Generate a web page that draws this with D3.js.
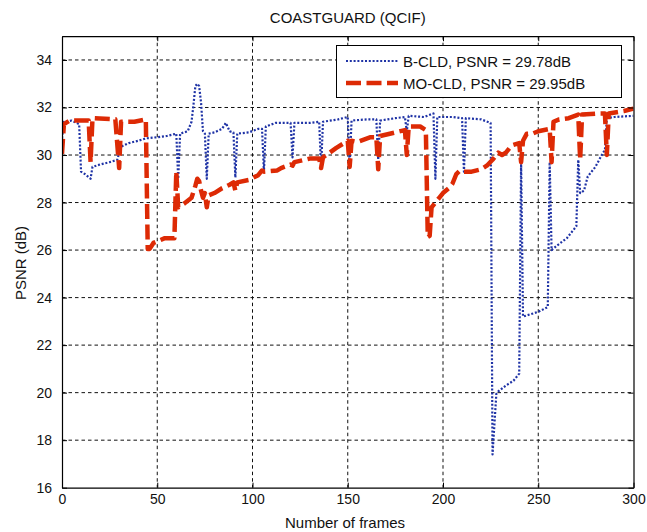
<!DOCTYPE html>
<html>
<head>
<meta charset="utf-8">
<script src="https://cdn.jsdelivr.net/npm/d3@7"></script>
<style>
  body { margin: 0; background: #fff; }
  svg { font-family: 'Liberation Sans', Arial, Helvetica, sans-serif; }
</style>
</head>
<body>
<div id="chart"></div>
<script>
// B-CLD (blue dotted)
const bCldFrames = [0, 1, 5, 9, 10, 12, 15, 16, 20, 25, 29, 31, 35, 40, 44, 50, 55, 60, 61, 62,
  66, 68, 69, 70, 71, 72, 73, 74, 75, 76, 77, 80, 84, 86, 88, 90, 91, 92, 98, 103,
  105, 106, 107, 112, 120, 121, 122, 130, 135, 136, 137, 145, 150, 151, 152, 160, 165, 166, 167, 175,
  180, 181, 182, 190, 195, 196, 197, 205, 210, 211, 212, 220, 225, 226, 228, 229, 233, 237, 240, 241,
  242, 250, 255, 256, 257, 260, 265, 270, 271, 272, 274, 276, 280, 284, 285, 286, 290, 300];
const bCldPsnr = [30.7, 31.4, 31.45, 31.3, 29.3, 29.2, 29.0, 29.5, 29.6, 29.7, 29.8, 30.35, 30.5, 30.6, 30.7, 30.75, 30.8, 30.9, 29.0, 30.9,
  31.0, 31.4, 32.1, 32.9, 33.0, 32.9, 32.2, 31.0, 30.9, 29.0, 30.9, 30.95, 31.1, 31.35, 31.0, 30.95, 29.05, 30.9, 30.95, 31.1,
  31.1, 29.3, 31.2, 31.35, 31.35, 29.9, 31.35, 31.35, 31.4, 29.45, 31.4, 31.5, 31.6, 29.55, 31.45, 31.5, 31.5, 29.8, 31.45, 31.55,
  31.6, 31.0, 31.65, 31.6, 31.75, 29.0, 31.6, 31.6, 31.55, 29.3, 31.55, 31.5, 31.35, 17.4, 19.95, 20.05, 20.3, 20.5, 20.8, 29.7,
  23.2, 23.4, 23.6, 29.7, 26.0, 26.2, 26.5, 27.0, 29.8, 28.4, 28.5, 29.1, 29.5, 30.1, 30.2, 31.55, 31.6, 31.65];

// MO-CLD (red dashed)
const moCldFrames = [0, 1, 4, 14, 15, 16, 28, 30, 31, 38, 44, 45, 46, 48, 54, 59, 60, 61, 64, 68,
  70, 71, 72, 73, 74, 75, 76, 77, 80, 84, 88, 90, 91, 92, 98, 103, 105, 106, 113, 115,
  120, 121, 122, 130, 135, 136, 137, 144, 150, 151, 152, 155, 162, 165, 166, 167, 175, 180, 181, 182,
  188, 191, 192, 193, 194, 196, 198, 200, 203, 205, 207, 209, 211, 215, 220, 223, 226, 229, 231, 233,
  236, 240, 241, 242, 244, 247, 250, 256, 257, 258, 261, 266, 271, 272, 273, 282, 285, 286, 287, 295, 300];
const moCldPsnr = [30.05, 31.3, 31.45, 31.45, 29.7, 31.55, 31.5, 29.45, 31.4, 31.4, 31.5, 26.05, 26.05, 26.3, 26.5, 26.5, 29.3, 27.8, 27.95, 28.2,
  28.7, 29.0, 28.9, 28.5, 28.2, 28.4, 27.8, 28.3, 28.4, 28.6, 28.75, 28.85, 28.5, 28.85, 28.95, 29.15, 29.35, 29.3, 29.35, 29.45,
  29.6, 29.55, 29.7, 29.85, 29.85, 29.45, 29.9, 30.3, 30.6, 29.5, 30.6, 30.55, 30.75, 30.75, 29.4, 30.8, 30.95, 31.05, 30.0, 31.2,
  31.2, 31.05, 26.55, 26.6, 27.8, 28.0, 28.2, 28.4, 28.6, 28.8, 29.2, 29.35, 29.3, 29.3, 29.4, 29.55, 29.8, 30.1, 30.0, 30.1,
  30.4, 30.5, 29.7, 30.6, 30.9, 30.9, 31.0, 31.1, 29.7, 31.4, 31.5, 31.55, 31.7, 29.8, 31.7, 31.75, 31.75, 30.0, 31.75, 31.85, 31.95];

const xTicks = [0, 50, 100, 150, 200, 250, 300];
const yTicks = [16, 18, 20, 22, 24, 26, 28, 30, 32, 34];
const legendLabels = ['B-CLD, PSNR = 29.78dB', 'MO-CLD, PSNR = 29.95dB'];

const WIDTH = 647;
const HEIGHT = 532;
const LEFT = 62;
const RIGHT = 633.5;
const TOP = 36.2;
const BOTTOM = 487.7;

const BLUE = '#1f33a6';
const RED = '#dd2a05';

const drawChart = () => {
  const svg = d3.create('svg').attr('width', WIDTH).attr('height', HEIGHT);

  svg.append('rect').attr('width', WIDTH).attr('height', HEIGHT).attr('fill', '#fff');

  const xScale = d3.scaleLinear().domain([0, 300]).range([LEFT, RIGHT]);
  const yScale = d3.scaleLinear().domain([16, 35]).range([BOTTOM, TOP]);

  // grid
  const grid = svg.append('g')
    .attr('stroke', '#111')
    .attr('stroke-width', 1)
    .attr('stroke-dasharray', '3.5,3');
  grid.selectAll('.vgrid')
    .data(xTicks.slice(1, -1))
    .join('line')
    .attr('x1', (d) => xScale(d))
    .attr('x2', (d) => xScale(d))
    .attr('y1', TOP)
    .attr('y2', BOTTOM);
  grid.selectAll('.hgrid')
    .data(yTicks.slice(1))
    .join('line')
    .attr('x1', LEFT)
    .attr('x2', RIGHT)
    .attr('y1', (d) => yScale(d))
    .attr('y2', (d) => yScale(d));

  svg.append('clipPath').attr('id', 'plot-clip')
    .append('rect')
    .attr('x', LEFT).attr('y', TOP)
    .attr('width', RIGHT - LEFT).attr('height', BOTTOM - TOP);

  const line = d3.line().x((d) => xScale(d[0])).y((d) => yScale(d[1]));

  const series = [
    { points: d3.zip(bCldFrames, bCldPsnr), color: BLUE, width: 2.2, dash: '2,1.8' },
    { points: d3.zip(moCldFrames, moCldPsnr), color: RED, width: 4.5, dash: '15,5.5' },
  ];

  svg.append('g')
    .attr('clip-path', 'url(#plot-clip)')
    .selectAll('path')
    .data(series)
    .join('path')
    .attr('d', (d) => line(d.points))
    .attr('fill', 'none')
    .attr('stroke', (d) => d.color)
    .attr('stroke-width', (d) => d.width)
    .attr('stroke-dasharray', (d) => d.dash)
    .attr('stroke-linejoin', 'round');

  // axes, MATLAB style box with inward ticks
  const axisBottom = d3.axisBottom(xScale).tickValues(xTicks).tickSizeInner(-5).tickSizeOuter(0).tickPadding(6);
  const axisTop = d3.axisTop(xScale).tickValues(xTicks).tickSizeInner(-5).tickSizeOuter(0).tickFormat('');
  const axisLeft = d3.axisLeft(yScale).tickValues(yTicks).tickSizeInner(-5).tickSizeOuter(0).tickPadding(10);
  const axisRight = d3.axisRight(yScale).tickValues(yTicks).tickSizeInner(-5).tickSizeOuter(0).tickFormat('');

  const styleAxis = (g) => {
    g.selectAll('.domain').attr('stroke', '#000').attr('stroke-width', 1.2);
    g.selectAll('.tick line').attr('stroke', '#000').attr('stroke-width', 1);
    g.selectAll('.tick text')
      .attr('fill', '#111')
      .style('font-size', '14px')
      .style('font-family', "'Liberation Sans', Arial, sans-serif");
  };

  svg.append('g').attr('transform', `translate(0, ${BOTTOM})`).call(axisBottom).call(styleAxis);
  svg.append('g').attr('transform', `translate(0, ${TOP})`).call(axisTop).call(styleAxis);
  svg.append('g').attr('transform', `translate(${LEFT}, 0)`).call(axisLeft).call(styleAxis);
  svg.append('g').attr('transform', `translate(${RIGHT}, 0)`).call(axisRight).call(styleAxis);

  svg.append('text')
    .attr('x', (LEFT + RIGHT) / 2)
    .attr('y', 23)
    .attr('text-anchor', 'middle')
    .style('font-size', '15px')
    .attr('fill', '#111')
    .text('COASTGUARD (QCIF)');

  svg.append('text')
    .attr('x', 345)
    .attr('y', 528)
    .attr('text-anchor', 'middle')
    .style('font-size', '15px')
    .attr('fill', '#111')
    .text('Number of frames');

  svg.append('text')
    .attr('transform', 'translate(26, 263) rotate(-90)')
    .attr('text-anchor', 'middle')
    .style('font-size', '15px')
    .attr('fill', '#111')
    .text('PSNR (dB)');

  // legend
  const legend = svg.append('g').attr('id', 'legend');
  legend.append('rect')
    .attr('x', 336.5).attr('y', 45.5)
    .attr('width', 285).attr('height', 52)
    .attr('fill', '#fff')
    .attr('stroke', '#000')
    .attr('stroke-width', 1);

  const items = legend.selectAll('.item')
    .data(legendLabels)
    .join('g')
    .attr('class', 'item')
    .attr('transform', (_, i) => `translate(0, ${i === 0 ? 61 : 83})`);

  items.append('line')
    .attr('x1', 346).attr('x2', 398)
    .attr('stroke', (_, i) => series[i].color)
    .attr('stroke-width', (_, i) => series[i].width)
    .attr('stroke-dasharray', (_, i) => series[i].dash);

  items.append('text')
    .attr('x', 403)
    .attr('y', 5.5)
    .style('font-size', '15px')
    .attr('fill', '#111')
    .text((d) => d);

  document.getElementById('chart').appendChild(svg.node());
};

drawChart();
</script>
</body>
</html>
